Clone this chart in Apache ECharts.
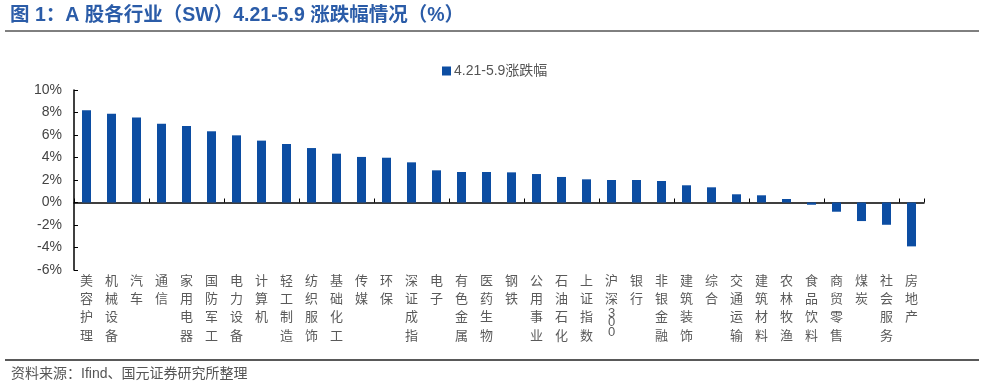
<!DOCTYPE html>
<html>
<head>
<meta charset="utf-8">
<script src="https://cdn.jsdelivr.net/npm/echarts@6/dist/echarts.min.js"></script>
<style>html,body{margin:0;padding:0;background:#fff;}#c{width:984px;height:388px;}</style>
</head>
<body>
<div id="c"></div>
<script>
const categories = ['美容护理','机械设备','汽车','通信','家用电器','国防军工','电力设备','计算机','轻工制造','纺织服饰','基础化工','传媒','环保','深证成指','电子','有色金属','医药生物','钢铁','公用事业','石油石化','上证指数','沪深300','银行','非银金融','建筑装饰','综合','交通运输','建筑材料','农林牧渔','食品饮料','商贸零售','煤炭','社会服务','房地产'];
const changePct = [8.2,7.88,7.55,7.0,6.8,6.33,5.97,5.5,5.2,4.84,4.34,4.05,3.98,3.57,2.86,2.71,2.71,2.68,2.53,2.27,2.06,2.0,2.0,1.91,1.53,1.35,0.73,0.64,0.31,-0.2,-0.82,-1.65,-1.98,-3.9];
const seriesName = '4.21-5.9涨跌幅';
const yTicks = {min: -6, max: 10, interval: 2};
const titleText = '图 1：A 股各行业（SW）4.21-5.9 涨跌幅情况（%）';
const sourceText = '资料来源：Ifind、国元证券研究所整理';

const FONT = 'Arial, "Liberation Sans", "Noto Sans CJK SC", sans-serif';
const chart = echarts.init(document.getElementById('c'), null, {renderer: 'canvas'});

function vertical(v) {
  const m = v.match(/^(.*?)(\d+)$/);
  if (m) {
    return m[1].split('').join('\n') + '\n' + m[2].split('').map(d => '{d|' + d + '}').join('\n');
  }
  return v.split('').join('\n');
}

chart.setOption({
  animation: false,
  textStyle: {fontFamily: FONT},
  title: [
    {text: titleText, left: 5, top: 1, textStyle: {fontSize: 19.5, fontWeight: 'bold', color: '#2b5ca8', fontFamily: FONT}},
    {text: sourceText, left: 6, top: 362, textStyle: {fontSize: 14, fontWeight: 'normal', color: '#555', fontFamily: FONT}}
  ],
  graphic: [
    {type: 'line', shape: {x1: 5, y1: 31, x2: 979, y2: 31}, style: {stroke: '#000', lineWidth: 1}},
    {type: 'line', shape: {x1: 5, y1: 360, x2: 979, y2: 360}, style: {stroke: '#222', lineWidth: 1.5}}
  ],
  legend: {
    data: [seriesName], top: 59, left: 437, icon: 'rect', itemWidth: 9, itemHeight: 9, itemGap: 3,
    textStyle: {fontSize: 14, color: '#555', padding: [0,0,0,-2]}
  },
  grid: {left: 74, right: 60, top: 90, bottom: 118, containLabel: false},
  xAxis: [
    {
      type: 'category', data: categories,
      axisLine: {onZero: true, lineStyle: {color: '#000', width: 1.5}},
      axisTick: {show: true, inside: true, length: 4, lineStyle: {color: '#000'}},
      axisLabel: {show: false}
    },
    {
      type: 'category', data: categories, position: 'bottom',
      axisLine: {show: false, onZero: false}, axisTick: {show: false},
      axisLabel: {
        interval: 0, margin: 2, fontSize: 13, color: '#5a5a5a', lineHeight: 18.3, verticalAlign: 'top',
        formatter: vertical,
        rich: {d: {fontSize: 13, lineHeight: 9.5, color: '#5a5a5a'}}
      }
    }
  ],
  yAxis: {
    type: 'value', min: yTicks.min, max: yTicks.max, interval: yTicks.interval,
    axisLine: {show: true, lineStyle: {color: '#000', width: 1.5}},
    axisTick: {show: true, inside: true, length: 4, lineStyle: {color: '#000'}},
    splitLine: {show: false},
    axisLabel: {fontSize: 14, color: '#444', margin: 12, formatter: v => v + '%'}
  },
  series: [{
    name: seriesName, type: 'bar', xAxisIndex: 0, data: changePct, barWidth: 9,
    itemStyle: {color: '#0c4da2'}
  }]
});
</script>
</body>
</html>
